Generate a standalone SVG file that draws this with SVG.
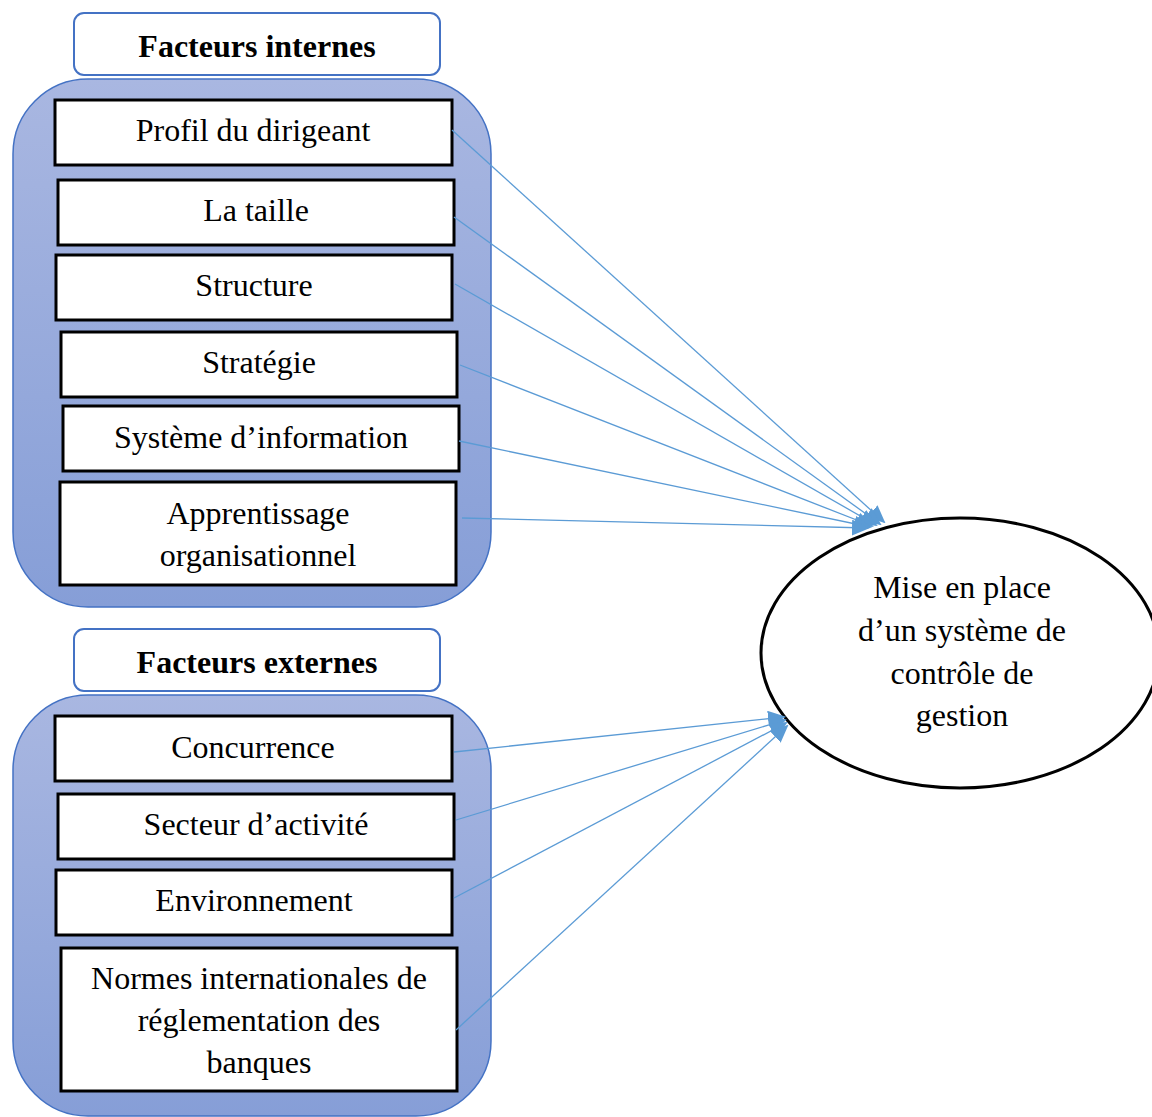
<svg xmlns="http://www.w3.org/2000/svg" width="1152" height="1117" viewBox="0 0 1152 1117">
<style>
.hdr{fill:#fff;stroke:#4472C4;stroke-width:2}
.cont{fill:url(#g);stroke:#4472C4;stroke-width:1.5}
.box{fill:#fff;stroke:#000;stroke-width:3}
.t{font-family:"Liberation Serif","Times New Roman",serif;font-size:32px;fill:#000;text-anchor:middle}
.b{font-weight:bold}
.c line{stroke:#5B9BD5;stroke-width:1.3}
</style>
<defs>
<linearGradient id="g" x1="0" y1="0" x2="0" y2="1">
<stop offset="0" stop-color="#A9B7E1"/>
<stop offset="1" stop-color="#869ED7"/>
</linearGradient>
<marker id="ah" markerUnits="userSpaceOnUse" markerWidth="18" markerHeight="16" refX="16" refY="8" orient="auto">
<path d="M0,0 L18,8 L0,16 Z" fill="#5B9BD5"/>
</marker>
</defs>
<g id="group-internes">
<rect class="cont" x="13" y="79" width="478" height="528" rx="75" ry="75"/>
</g>
<g id="header-internes">
<rect class="hdr" x="74" y="13" width="366" height="62" rx="10"/>
<text class="t b" x="257" y="57">Facteurs internes</text>
</g>
<g id="group-externes">
<rect class="cont" x="13" y="695" width="478" height="421" rx="75" ry="75"/>
</g>
<g id="header-externes">
<rect class="hdr" x="74" y="629" width="366" height="62" rx="10"/>
<text class="t b" x="257" y="673">Facteurs externes</text>
</g>
<g id="n-profil"><rect class="box" x="55" y="100" width="397" height="65"/><text class="t" x="253" y="141">Profil du dirigeant</text></g>
<g id="n-taille"><rect class="box" x="58" y="180" width="396" height="65"/><text class="t" x="256" y="221">La taille</text></g>
<g id="n-structure"><rect class="box" x="56" y="255" width="396" height="65"/><text class="t" x="254" y="296">Structure</text></g>
<g id="n-strategie"><rect class="box" x="61" y="332" width="396" height="65"/><text class="t" x="259" y="373">Stratégie</text></g>
<g id="n-si"><rect class="box" x="63" y="406" width="396" height="65"/><text class="t" x="261" y="448">Système d’information</text></g>
<g id="n-apprentissage"><rect class="box" x="60" y="482" width="396" height="103"/><text class="t" x="258" y="524">Apprentissage</text><text class="t" x="258" y="566">organisationnel</text></g>
<g id="n-concurrence"><rect class="box" x="55" y="716" width="397" height="65"/><text class="t" x="253" y="758">Concurrence</text></g>
<g id="n-secteur"><rect class="box" x="58" y="794" width="396" height="65"/><text class="t" x="256" y="835">Secteur d’activité</text></g>
<g id="n-env"><rect class="box" x="56" y="870" width="396" height="65"/><text class="t" x="254" y="911">Environnement</text></g>
<g id="n-normes"><rect class="box" x="61" y="948" width="396" height="143"/><text class="t" x="259" y="989">Normes internationales de</text><text class="t" x="259" y="1031">réglementation des</text><text class="t" x="259" y="1073">banques</text></g>
<g id="n-mise">
<ellipse cx="960" cy="653" rx="199" ry="135" fill="#fff" stroke="#000" stroke-width="3"/>
<text class="t" x="962" y="598">Mise en place</text>
<text class="t" x="962" y="641">d’un système de</text>
<text class="t" x="962" y="684">contrôle de</text>
<text class="t" x="962" y="726">gestion</text>
</g>
<g id="connectors" class="c">
<line x1="452" y1="130" x2="884" y2="522" marker-end="url(#ah)"/>
<line x1="454" y1="217" x2="880" y2="524" marker-end="url(#ah)"/>
<line x1="455" y1="284" x2="876" y2="525" marker-end="url(#ah)"/>
<line x1="460" y1="365" x2="872" y2="526" marker-end="url(#ah)"/>
<line x1="459" y1="441" x2="870" y2="527" marker-end="url(#ah)"/>
<line x1="462" y1="518" x2="868" y2="528" marker-end="url(#ah)"/>
<line x1="454" y1="752" x2="784" y2="717" marker-end="url(#ah)"/>
<line x1="456" y1="820" x2="785" y2="720" marker-end="url(#ah)"/>
<line x1="454" y1="898" x2="786" y2="723" marker-end="url(#ah)"/>
<line x1="456" y1="1030" x2="787" y2="726" marker-end="url(#ah)"/>
</g>
</svg>
